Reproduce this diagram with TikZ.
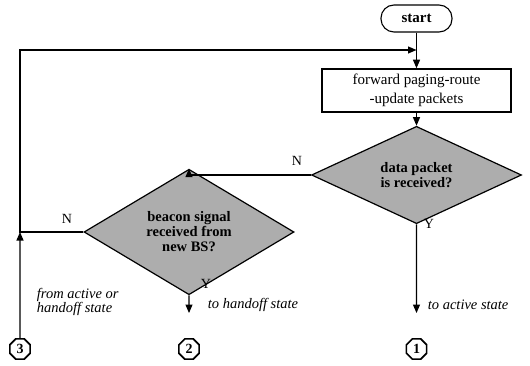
\documentclass[tikz,border=0pt]{standalone}
\usepackage{fontspec}
\setmainfont{Liberation Serif}
\usetikzlibrary{shapes.geometric,arrows.meta}
\begin{document}
\begin{tikzpicture}[x=1pt,y=-1pt,
  line width=1.1pt,
  arr/.style={-{Triangle[length=8.5pt,width=7pt]}},
  dia/.style={diamond, draw, line width=1.2pt, fill=black!32, minimum width=210pt, minimum height=76pt, inner sep=0pt, align=center, font=\fontsize{14.5}{15}\selectfont\bfseries},
  conn/.style={regular polygon, regular polygon sides=8, draw, line width=1.6pt, minimum size=22pt, inner sep=0pt, font=\fontsize{14}{14}\selectfont\bfseries},
  lbl/.style={font=\fontsize{14}{14}\selectfont},
  ital/.style={font=\fontsize{14.5}{12.5}\selectfont\itshape, align=left, anchor=west}]
\useasboundingbox (0,0) rectangle (530,366);
\node[draw, rounded corners=13pt, minimum width=71pt, minimum height=27pt, inner sep=0pt, font=\fontsize{15}{15}\selectfont\bfseries] (start) at (416.5,18.5) {start};
\node[draw, line width=1.5pt, minimum width=189pt, minimum height=43pt, inner sep=0pt, align=center, font=\fontsize{15}{19}\selectfont] (fwd) at (416.5,90.5) {forward paging-route\\-update packets};
\node[dia] (d1) at (416.5,175) {data packet\\is received?};
\node[dia] (d2) at (189,232) {beacon signal\\received from\\new BS?};
\node[conn] (c1) at (416.5,349) {1};
\node[conn] (c2) at (189,349) {2};
\node[conn] (c3) at (20,349) {3};
\coordinate (j3) at (20,232);
\coordinate (tl) at (20,50);
\draw[arr] (start) -- (fwd);
\draw[arr] (fwd) -- (d1);
\draw[arr] (d1.west) -- (d1.west -| d2.north) -- (d2.north);
\draw[arr] (d2.west) -- (j3) -- (tl) -- (tl -| start.south);
\draw[arr] (c3.north) -- (j3);
\draw[arr, shorten >=25pt] (d2.south) -- (c2.north);
\draw[arr, shorten >=25pt] (d1.south) -- (c1.north);
\node[lbl] (n1) at (297,161) {N};
\node[lbl] (n2) at (67,219) {N};
\node[lbl] (y1) at (429,224) {Y};
\node[lbl] (y2) at (206,284) {Y};
\node[ital] (l3) at (33,302) {from active or\\handoff state};
\node[ital] (l2) at (204,305) {to handoff state};
\node[ital] (l1) at (424,305) {to active state};
\end{tikzpicture}
\end{document}
